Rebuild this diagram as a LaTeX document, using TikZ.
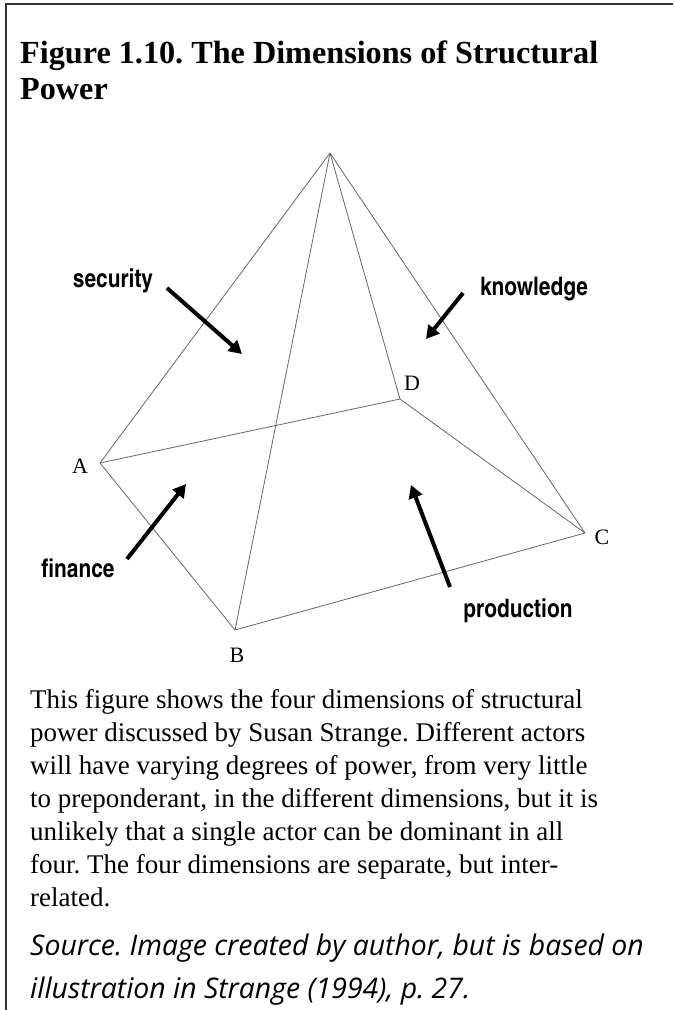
\documentclass[tikz,border=0pt]{standalone}
\usepackage{fontspec}
\setmainfont{Liberation Serif}
\newfontfamily\labfont{TeX Gyre Heros Cn}
\newfontfamily\srcfont{Open Sans}
\usetikzlibrary{arrows.meta}
\frenchspacing
\begin{document}
\begin{tikzpicture}[x=1pt,y=-1pt,
  edge/.style={draw=black!60,line width=0.8pt},
  bigarrow/.style={draw=black,line width=4pt,-{Triangle[length=13pt,width=14pt]}},
  vlab/.style={font=\fontsize{22}{22}\selectfont,inner sep=0pt},
  dimlab/.style={font=\labfont\bfseries\fontsize{25.5}{25.5}\selectfont,inner sep=0pt},
  titleline/.style={anchor=base west,inner sep=0pt,font=\bfseries\fontsize{32.2}{35}\selectfont},
  bodyline/.style={anchor=base west,inner sep=0pt,font=\fontsize{27}{33}\selectfont},
  srcline/.style={anchor=base west,inner sep=0pt,font=\srcfont\itshape\fontsize{28.4}{30}\selectfont}]
\useasboundingbox (0,0) rectangle (673,1010);
\fill[white] (0,0) rectangle (673,1010);
\draw[line width=2.2pt,black!80] (6,1010) -- (6,4) -- (673,4);
% title
\node[titleline] (t1) at (20,63) {Figure 1.10. The Dimensions of Structural};
\node[titleline] (t2) at (20,99) {Power};
% pyramid
\coordinate (P) at (330,153);
\coordinate (A) at (100,463);
\coordinate (B) at (235,630);
\coordinate (C) at (585,533);
\coordinate (D) at (400,399);
\draw[edge] (P) -- (A);
\draw[edge] (P) -- (B);
\draw[edge] (P) -- (C);
\draw[edge] (P) -- (D);
\draw[edge] (A) -- (D);
\draw[edge] (D) -- (C);
\draw[edge] (A) -- (B);
\draw[edge] (B) -- (C);
\node[vlab] (lA) at (80,466) {A};
\node[vlab] (lB) at (237,655) {B};
\node[vlab] (lC) at (602,537) {C};
\node[vlab] (lD) at (412,383) {D};
% dimension labels
\node[dimlab] (sec) at (113,281) {security};
\node[dimlab] (kno) at (534,289) {knowledge};
\node[dimlab] (fin) at (78,568) {finance};
\node[dimlab] (pro) at (518,611) {production};
\coordinate (s1) at (167,288); \coordinate (s2) at (242,354);
\coordinate (k1) at (463,293); \coordinate (k2) at (426,339);
\coordinate (f1) at (127,559); \coordinate (f2) at (186,484);
\coordinate (p1) at (450,587); \coordinate (p2) at (411,485);
\draw[bigarrow] (s1) -- (s2);
\draw[bigarrow] (k1) -- (k2);
\draw[bigarrow] (f1) -- (f2);
\draw[bigarrow] (p1) -- (p2);
% caption
\node[bodyline] (b1) at (30,708) {This figure shows the four dimensions of structural};
\node[bodyline] (b2) at (30,741) {power discussed by Susan Strange. Different actors};
\node[bodyline] (b3) at (30,774) {will have varying degrees of power, from very little};
\node[bodyline] (b4) at (30,807) {to preponderant, in the different dimensions, but it is};
\node[bodyline] (b5) at (30,840) {unlikely that a single actor can be dominant in all};
\node[bodyline] (b6) at (30,873) {four. The four dimensions are separate, but inter-};
\node[bodyline] (b7) at (30,906) {related.};
\node[srcline] (s1t) at (30,955) {Source. Image created by author, but is based on};
\node[srcline] (s2t) at (30,998) {illustration in Strange (1994), p. 27.};
\end{tikzpicture}
\end{document}
